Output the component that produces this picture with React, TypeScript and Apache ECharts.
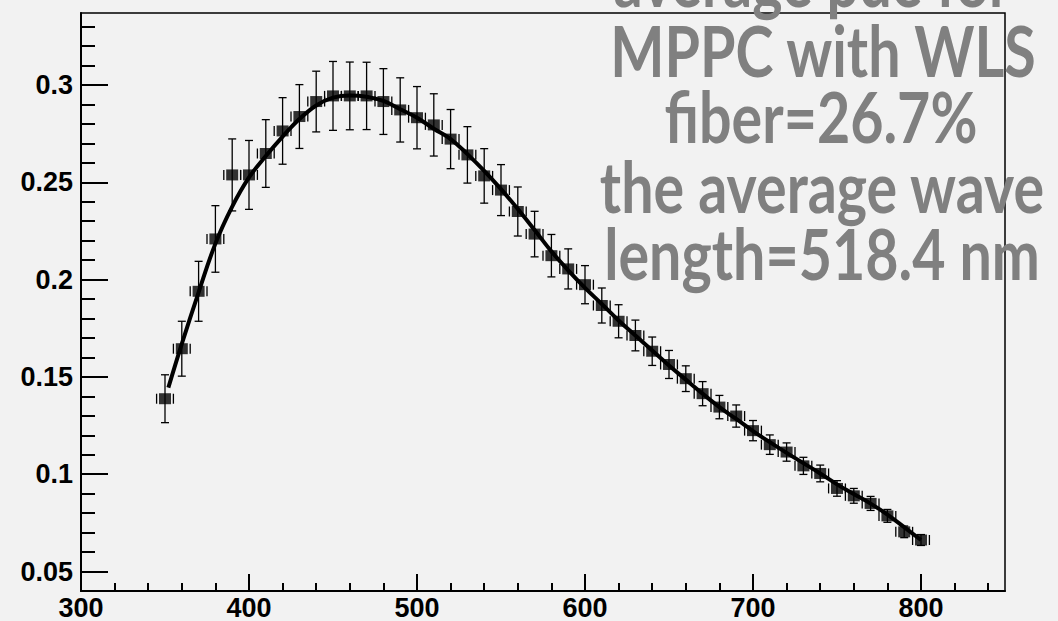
import React, { useEffect, useRef } from "react";
import * as echarts from "echarts";

// Wavelength (nm) of each measured point
const wavelengths = [
  350, 360, 370, 380, 390, 400, 410, 420, 430, 440,
  450, 460, 470, 480, 490, 500, 510, 520, 530, 540,
  550, 560, 570, 580, 590, 600, 610, 620, 630, 640,
  650, 660, 670, 680, 690, 700, 710, 720, 730, 740,
  750, 760, 770, 780, 790, 800,
];
// Measured PDE
const pdeValues = [
  0.1388, 0.1645, 0.194, 0.2209, 0.2538, 0.2538, 0.2648, 0.2764, 0.2838, 0.2915,
  0.2944, 0.2944, 0.2944, 0.2915, 0.2872, 0.2832, 0.2795, 0.2722, 0.2641, 0.2533,
  0.246, 0.235, 0.2234, 0.2123, 0.2055, 0.1974, 0.1867, 0.1786, 0.1713, 0.1632,
  0.1564, 0.1491, 0.1414, 0.1345, 0.1299, 0.1224, 0.1152, 0.1114, 0.1043, 0.1004,
  0.0927, 0.0889, 0.085, 0.0786, 0.0704, 0.0662,
];
// Vertical error (half length)
const pdeErrors = [
  0.0123, 0.0141, 0.0154, 0.0171, 0.0185, 0.0177, 0.0174, 0.0171, 0.0164, 0.0156,
  0.0177, 0.0174, 0.0173, 0.0169, 0.0165, 0.016, 0.016, 0.0152, 0.0145, 0.014,
  0.0131, 0.0126, 0.0117, 0.0109, 0.0103, 0.0098, 0.009, 0.0085, 0.0079, 0.0073,
  0.0072, 0.0066, 0.0062, 0.006, 0.0057, 0.0052, 0.005, 0.0047, 0.0044, 0.0043,
  0.004, 0.0038, 0.0036, 0.0033, 0.003, 0.0028,
];
// Horizontal error (half length, nm)
const wavelengthErrors = [
  5, 5, 5, 5, 5, 5, 5, 5, 5, 5,
  5, 5, 5, 5, 5, 5, 5, 5, 5, 5,
  5, 5, 5, 5, 5, 5, 5, 5, 5, 5,
  5, 5, 5, 5, 5, 5, 5, 5, 5, 5,
  5, 5, 5, 5, 5, 5,
];

// Fitted curve
const fitWavelengths = [
  352, 360, 370, 380, 390, 400, 410, 420, 430, 440,
  450, 460, 470, 480, 490, 500, 510, 520, 530, 540,
  550, 560, 570, 580, 590, 600, 610, 620, 630, 640,
  650, 660, 670, 680, 690, 700, 710, 720, 730, 740,
  750, 760, 770, 780, 790, 800,
];
const fitValues = [
  0.1445, 0.167, 0.1935, 0.2185, 0.2375, 0.2525, 0.2635, 0.2735, 0.2825, 0.2895,
  0.2935, 0.2946, 0.294, 0.2918, 0.2875, 0.2832, 0.2775, 0.2722, 0.2645, 0.2559,
  0.2465, 0.2363, 0.2255, 0.2145, 0.2048, 0.1958, 0.1875, 0.179, 0.1713, 0.1636,
  0.1559, 0.1486, 0.1414, 0.1345, 0.1284, 0.1222, 0.1165, 0.111, 0.1057, 0.1004,
  0.0948, 0.0898, 0.0849, 0.0793, 0.0728, 0.0662,
];

const xMajorTicks = [300, 400, 500, 600, 700, 800];
const xMinorTicks = [
  320, 340, 360, 380, 420, 440, 460, 480, 520, 540, 560, 580,
  620, 640, 660, 680, 720, 740, 760, 780, 820, 840,
];
const yMajorTicks = [0.05, 0.1, 0.15, 0.2, 0.25, 0.3];
const yMinorTicks = [
  0.06, 0.07, 0.08, 0.09, 0.11, 0.12, 0.13, 0.14, 0.16, 0.17, 0.18, 0.19,
  0.21, 0.22, 0.23, 0.24, 0.26, 0.27, 0.28, 0.29, 0.31, 0.32, 0.33,
];

const annotationLines = [
  "average pde for",
  "MPPC with WLS",
  "fiber=26.7%",
  "the average wave",
  "length=518.4 nm",
];

const LABEL_FONT = "Liberation Sans, Arial, Helvetica, sans-serif";

export default function App() {
  const ref = useRef<HTMLDivElement>(null);

  useEffect(() => {
    if (!ref.current) return;
    const chart = echarts.init(ref.current, undefined, { renderer: "svg" });

    const points = wavelengths.map((w, i) => [w, pdeValues[i]]);
    const errData = wavelengths.map((w, i) => [w, pdeValues[i], pdeErrors[i], wavelengthErrors[i]]);
    const fitData = fitWavelengths.map((w, i) => [w, fitValues[i]]);

    const centers = [812, 823, 821, 822, 822];
    const baselines = [8, 78, 144, 214, 281];

    const xBase = {
      type: "value",
      min: 300,
      max: 850,
      gridIndex: 0,
      position: "bottom",
      splitLine: { show: false },
    };
    const yBase = {
      type: "value",
      min: 0.04,
      max: 0.337,
      gridIndex: 0,
      position: "left",
      splitLine: { show: false },
    };

    const labelStyle = {
      color: "#000",
      fontSize: 27,
      lineHeight: 27,
      fontWeight: "bold",
      fontFamily: LABEL_FONT,
    };

    chart.setOption({
      animation: false,
      backgroundColor: "#f2f2f2",
      grid: {
        left: 81,
        right: 53,
        top: 13,
        bottom: 30,
        show: true,
        borderColor: "#000",
        borderWidth: 1.5,
        backgroundColor: "transparent",
      },
      xAxis: [
        {
          ...xBase,
          axisLine: { show: true, lineStyle: { color: "#000", width: 2 } },
          axisTick: {
            show: true,
            inside: true,
            length: 17,
            customValues: xMajorTicks,
            lineStyle: { color: "#000", width: 2 },
          },
          axisLabel: {
            show: true,
            customValues: xMajorTicks,
            ...labelStyle,
            margin: 3,
          },
        },
        {
          ...xBase,
          axisLine: { show: false },
          axisTick: {
            show: true,
            inside: true,
            length: 8,
            customValues: xMinorTicks,
            lineStyle: { color: "#000", width: 2 },
          },
          axisLabel: { show: false },
        },
      ],
      yAxis: [
        {
          ...yBase,
          axisLine: { show: true, lineStyle: { color: "#000", width: 2 } },
          axisTick: {
            show: true,
            inside: true,
            length: 27,
            customValues: yMajorTicks,
            lineStyle: { color: "#000", width: 2 },
          },
          axisLabel: {
            show: true,
            customValues: yMajorTicks,
            ...labelStyle,
            margin: 8,
            formatter: (v: number) => String(Number(v.toFixed(2))),
          },
        },
        {
          ...yBase,
          axisLine: { show: false },
          axisTick: {
            show: true,
            inside: true,
            length: 14,
            customValues: yMinorTicks,
            lineStyle: { color: "#000", width: 2 },
          },
          axisLabel: { show: false },
        },
      ],
      graphic: annotationLines.map((t, i) => ({
        type: "text",
        x: centers[i],
        y: baselines[i] - 28,
        scaleX: 0.82,
        z: 1,
        style: {
          text: t,
          fill: "#808080",
          font: "bold 70px Lato, 'Noto Sans', sans-serif",
          textAlign: "center",
          textVerticalAlign: "middle",
        },
      })),
      series: [
        {
          type: "custom",
          xAxisIndex: 0,
          yAxisIndex: 0,
          z: 3,
          data: errData,
          renderItem: (params: any, api: any) => {
            const x = api.value(0);
            const y = api.value(1);
            const e = api.value(2);
            const ex = api.value(3);
            const top = api.coord([x, y + e]);
            const bot = api.coord([x, y - e]);
            const left = api.coord([x - ex, y]);
            const right = api.coord([x + ex, y]);
            const style = { stroke: "#000", lineWidth: 1.3 };
            const cap = 4;
            const hcap = 5;
            return {
              type: "group",
              children: [
                { type: "line", shape: { x1: top[0], y1: top[1], x2: bot[0], y2: bot[1] }, style },
                { type: "line", shape: { x1: top[0] - cap, y1: top[1], x2: top[0] + cap, y2: top[1] }, style },
                { type: "line", shape: { x1: bot[0] - cap, y1: bot[1], x2: bot[0] + cap, y2: bot[1] }, style },
                { type: "line", shape: { x1: left[0], y1: left[1] - hcap, x2: left[0], y2: left[1] + hcap }, style },
                { type: "line", shape: { x1: right[0], y1: right[1] - hcap, x2: right[0], y2: right[1] + hcap }, style },
              ],
            };
          },
        },
        {
          type: "line",
          xAxisIndex: 0,
          yAxisIndex: 0,
          z: 4,
          data: fitData,
          smooth: 0.4,
          showSymbol: false,
          symbol: "none",
          lineStyle: { color: "#000", width: 4 },
        },
        {
          type: "scatter",
          xAxisIndex: 0,
          yAxisIndex: 0,
          z: 5,
          data: points,
          symbol: "rect",
          symbolSize: [12, 11],
          itemStyle: { color: "#000" },
        },
      ],
    });

    return () => chart.dispose();
  }, []);

  return (
    <div
      ref={ref}
      style={{ position: "fixed", left: 0, top: 0, width: 1058, height: 621, background: "#f2f2f2" }}
    />
  );
}
